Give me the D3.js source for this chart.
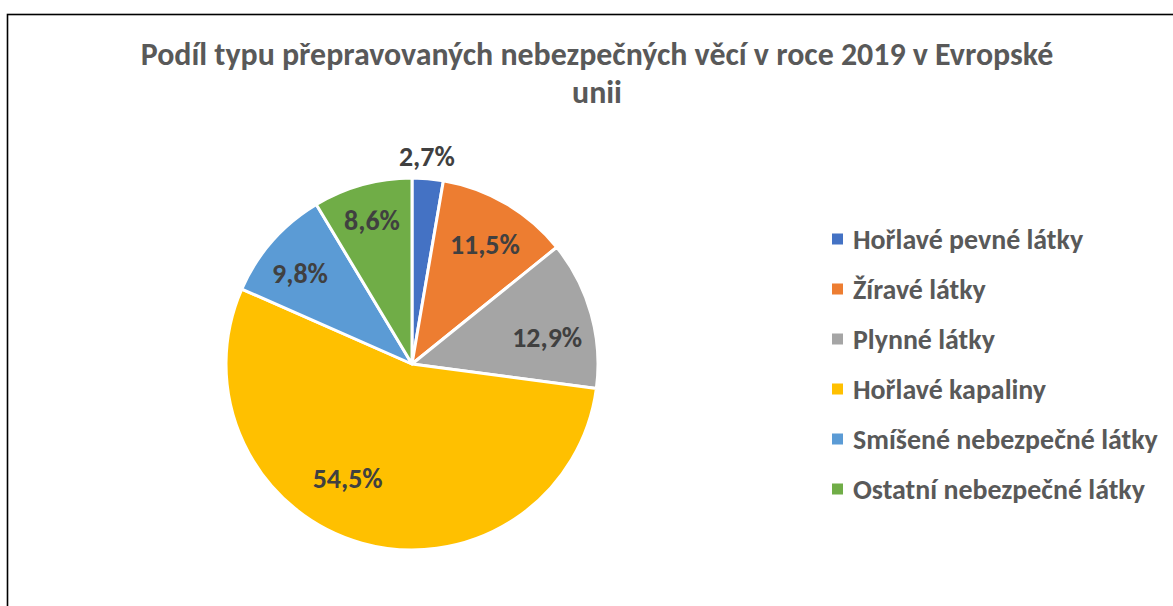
<!DOCTYPE html>
<html><head><meta charset="utf-8">
<script src="https://cdn.jsdelivr.net/npm/d3@7"></script>
<style>body{margin:0;background:#fff;} svg{display:block;}</style>
</head><body>
<svg id="c" width="1173" height="606"></svg>
<script>
const categories = ["Hořlavé pevné látky","Žíravé látky","Plynné látky","Hořlavé kapaliny","Smíšené nebezpečné látky","Ostatní nebezpečné látky"];
const values = [2.7, 11.5, 12.9, 54.5, 9.8, 8.6];
const labels = ["2,7%","11,5%","12,9%","54,5%","9,8%","8,6%"];
const colors = ["#4472C4","#ED7D31","#A5A5A5","#FFC000","#5B9BD5","#70AD47"];
const titleLines = ["Podíl typu přepravovaných nebezpečných věcí v roce 2019 v Evropské","unii"];
// label placement (radius px, angle shift deg) – layout only
const labelAt = [[210,-0.8],[141,0.7],[138,4],[130,14],[145,-2],[150,0]];

const svg = d3.select("#c");
const FONT = "Carlito, Lato, 'Open Sans', sans-serif";

svg.append("rect").attr("x",7.5).attr("y",14.5).attr("width",1200).attr("height",700)
  .attr("fill","#fff").attr("stroke","#000").attr("stroke-width",1.6);

function fit(sel, target){
  const w = sel.node().getComputedTextLength();
  const fs = parseFloat(sel.attr("font-size"));
  return fs * target / w;
}

// Title
const t1 = svg.append("text").attr("x",597).attr("y",65).attr("text-anchor","middle")
  .attr("font-family",FONT).attr("font-weight","bold").attr("font-size",24).attr("fill","#595959")
  .text(titleLines[0]);
const tfs = fit(t1, 913);
t1.attr("font-size",tfs);
svg.append("text").attr("x",597).attr("y",103).attr("text-anchor","middle")
  .attr("font-family",FONT).attr("font-weight","bold").attr("font-size",tfs).attr("fill","#595959")
  .text(titleLines[1]);

// Pie
const cx = 412, cy = 364, R = 186;
const pie = d3.pie().sort(null).value(d=>d)(values);
const arc = d3.arc().innerRadius(0).outerRadius(R);
const g = svg.append("g").attr("transform",`translate(${cx},${cy})`);
g.selectAll("path").data(pie).join("path")
  .attr("d",arc).attr("fill",(d,i)=>colors[i])
  .attr("stroke","#fff").attr("stroke-width",3).attr("stroke-linejoin","round");

// Labels
const lbl = g.selectAll("text.l").data(pie).join("text").attr("class","l")
  .attr("text-anchor","middle").attr("dominant-baseline","central")
  .attr("font-family",FONT).attr("font-weight","bold").attr("font-size",22).attr("fill","#404040")
  .text((d,i)=>labels[i]);
const lfs = fit(d3.select(lbl.nodes()[1]), 70);
lbl.attr("font-size",lfs)
  .attr("x",(d,i)=>{const a=(d.startAngle+d.endAngle)/2+labelAt[i][1]*Math.PI/180;return labelAt[i][0]*Math.sin(a);})
  .attr("y",(d,i)=>{const a=(d.startAngle+d.endAngle)/2+labelAt[i][1]*Math.PI/180;return -labelAt[i][0]*Math.cos(a)+1;});

// Legend
const ly = d3.scalePoint().domain(categories).range([239,489]);
const lg = svg.append("g");
lg.selectAll("rect").data(categories).join("rect")
  .attr("x",832).attr("y",d=>ly(d)-5.5).attr("width",11).attr("height",11)
  .attr("fill",(d,i)=>colors[i]);
const lt = lg.selectAll("text").data(categories).join("text")
  .attr("x",853).attr("y",d=>ly(d)).attr("dominant-baseline","central")
  .attr("font-family",FONT).attr("font-weight","bold").attr("font-size",22).attr("fill","#595959")
  .text(d=>d);
const gfs = fit(d3.select(lt.nodes()[4]), 305);
lt.attr("font-size",gfs);
</script>
</body></html>
